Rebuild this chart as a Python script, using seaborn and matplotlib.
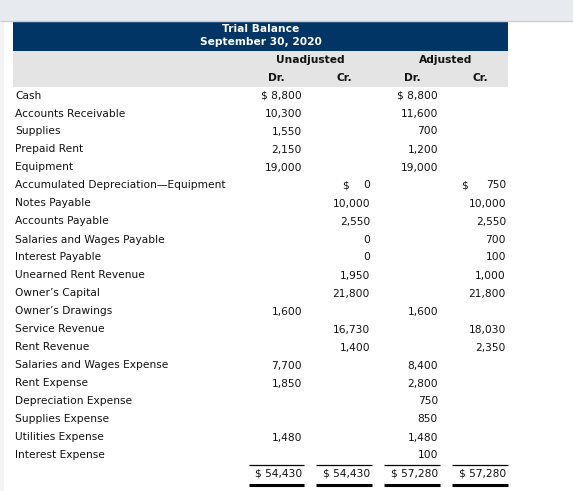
import matplotlib
matplotlib.use("Agg")
import matplotlib.pyplot as plt
import seaborn as sns
import pandas as pd

# trial balance data
title_lines = ["Trial Balance", "September 30, 2020"]
group_labels = ["Unadjusted", "Adjusted"]
side_labels = ["Dr.", "Cr.", "Dr.", "Cr."]

accounts = [
    "Cash", "Accounts Receivable", "Supplies", "Prepaid Rent", "Equipment",
    "Accumulated Depreciation\u2014Equipment", "Notes Payable", "Accounts Payable",
    "Salaries and Wages Payable", "Interest Payable", "Unearned Rent Revenue",
    "Owner\u2019s Capital", "Owner\u2019s Drawings", "Service Revenue", "Rent Revenue",
    "Salaries and Wages Expense", "Rent Expense", "Depreciation Expense",
    "Supplies Expense", "Utilities Expense", "Interest Expense",
]
unadj_dr = [8800, 10300, 1550, 2150, 19000, None, None, None, None, None, None,
            None, 1600, None, None, 7700, 1850, None, None, 1480, None]
unadj_cr = [None, None, None, None, None, 0, 10000, 2550, 0, 0, 1950,
            21800, None, 16730, 1400, None, None, None, None, None, None]
adj_dr = [8800, 11600, 700, 1200, 19000, None, None, None, None, None, None,
          None, 1600, None, None, 8400, 2800, 750, 850, 1480, 100]
adj_cr = [None, None, None, None, None, 750, 10000, 2550, 700, 100, 1000,
          21800, None, 18030, 2350, None, None, None, None, None, None]

df = pd.DataFrame({"account": accounts, "unadj_dr": unadj_dr, "unadj_cr": unadj_cr,
                   "adj_dr": adj_dr, "adj_cr": adj_cr})
value_cols = ["unadj_dr", "unadj_cr", "adj_dr", "adj_cr"]
totals = df[value_cols].sum()

sns.set_style("white")
plt.rcParams["font.family"] = ["DejaVu Sans"]
fs = 7.65
ink = "#111111"
navy = "#003565"

fig = plt.figure(figsize=(5.73, 4.91), dpi=100)
ax = fig.add_axes([0, 0, 1, 1])
ax.set_xlim(0, 573)
ax.set_ylim(491, 0)
ax.axis("off")

# page chrome
ax.axhspan(0, 21, color="#e7eaee", lw=0)
ax.hlines(21, 0, 573, color="#c9ced4", lw=1)
ax.fill_between([0, 4], 21.5, 491, color="#f1f3f5", lw=0)

# header blocks
ax.fill_between([13, 508], 22, 51, color=navy, lw=0)
ax.fill_between([13, 508], 51, 87, color="#e4e4e4", lw=0)
ax.text(260.5, 28.5, title_lines[0], ha="center", va="center", color="white",
        fontsize=fs, fontweight="bold")
ax.text(260.5, 41.5, title_lines[1], ha="center", va="center", color="white",
        fontsize=fs, fontweight="bold")

# column cells (left, right)
cells = [(249, 304), (316, 372), (384, 440), (452, 508)]
for g, lab in enumerate(group_labels):
    cx = (cells[2 * g][0] + cells[2 * g + 1][1]) / 2
    ax.text(cx, 59.5, lab, ha="center", va="center", color=ink,
            fontsize=fs, fontweight="bold")
for (l, r), lab in zip(cells, side_labels):
    ax.text((l + r) / 2, 77.5, lab, ha="center", va="center", color=ink,
            fontsize=fs, fontweight="bold")

# body rows
y0, row_h = 95.5, 18
for i, row in df.iterrows():
    y = y0 + i * row_h
    ax.text(15, y, row["account"], ha="left", va="center", color=ink, fontsize=fs)
    for c, col in enumerate(value_cols):
        v = row[col]
        if pd.isna(v):
            continue
        l, r = cells[c]
        txt = f"{int(v):,}"
        first = df[col].first_valid_index() == i
        if first and c % 2 == 0:
            txt = "$ " + txt
        elif first:
            ax.text(l + 26 if c == 1 else l + 9, y, "$", ha="left", va="center",
                    color=ink, fontsize=fs)
        ax.text(r - 2, y, txt, ha="right", va="center", color=ink, fontsize=fs)

# totals
ty = y0 + len(df) * row_h + 0.5
for c, col in enumerate(value_cols):
    l, r = cells[c]
    ax.hlines(ty - 9, l, r, color="black", lw=0.9)
    ax.text(r - 2, ty, f"$ {int(totals[col]):,}", ha="right", va="center",
            color=ink, fontsize=fs)
    ax.hlines(ty + 11, l, r, color="black", lw=2.2)

fig.savefig("out.png", dpi=100)
